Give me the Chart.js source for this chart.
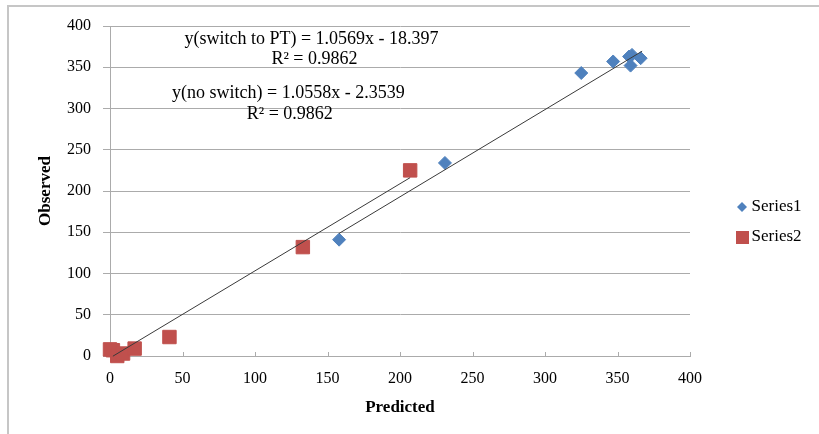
<!DOCTYPE html>
<html><head><meta charset="utf-8">
<script src="https://cdn.jsdelivr.net/npm/chart.js@4.4.1/dist/chart.umd.min.js"></script>
<style>
html,body{margin:0;padding:0;background:#fff;overflow:hidden;}
#wrap{position:relative;width:819px;height:434px;overflow:hidden;}
#frame{position:absolute;left:7px;top:5px;width:900px;height:600px;border-left:2px solid #c6c6c6;border-top:2px solid #c6c6c6;}
canvas{position:absolute;left:0;top:0;}
</style></head><body>
<div id="wrap"><div id="frame"></div><canvas id="c" width="819" height="434"></canvas></div>
<script>
// ---- data ----
const seriesNames = ['Series1', 'Series2'];
const series1X = [158, 231, 325, 347, 358, 360, 359, 366];
const series1Y = [141, 234, 343, 357, 363, 365, 352, 361];
const series2X = [0, 2, 5, 9, 17, 41, 133, 207];
const series2Y = [8, 7, 0, 3, 9, 23, 132, 225];
const trendSlopes = [1.0569, 1.0558];
const trendIntercepts = [-18.397, -2.3539];
const trendRangesX = [[158, 367], [2, 207]];
const equationLines = [
  ['y(switch to PT) = 1.0569x - 18.397', 'R\u00B2 = 0.9862'],
  ['y(no switch) = 1.0558x - 2.3539', 'R\u00B2 = 0.9862']
];
const axisMin = 0, axisMax = 400, axisStep = 50;
const xTitle = 'Predicted', yTitle = 'Observed';

// ---- styles / layout ----
const BLUE = '#4F81BD', RED = '#C0504D', GRID = '#ababab', TREND = '#3a3a3a';
const FONT = "'Liberation Serif', 'Times New Roman', serif";
// annotation anchor points in data units [x, y] for each line of each equation block
const equationAnchors = [[[139, 384], [141, 360]], [[123, 318.5], [124, 293]]];

function pts(xs, ys) { return xs.map((x, i) => ({x: x, y: ys[i]})); }
function trendPts(k) {
  return trendRangesX[k].map(x => ({x: x, y: trendSlopes[k] * x + trendIntercepts[k]}));
}
function marker(shape, size, color) {
  const c = document.createElement('canvas');
  c.width = size; c.height = size;
  const g = c.getContext('2d');
  g.fillStyle = color;
  if (shape === 'diamond') {
    g.beginPath(); g.moveTo(size / 2, 0); g.lineTo(size, size / 2); g.lineTo(size / 2, size); g.lineTo(0, size / 2); g.closePath(); g.fill();
  } else { g.fillRect(0, 0, size, size); }
  return c;
}
const legendMarkers = [marker('diamond', 10, BLUE), marker('square', 13, RED)];

const layoutPlugin = {
  id: 'layoutPlugin',
  beforeLayout(chart) {
    const lg = chart.legend;
    if (lg && !lg._patched) {
      const f = lg.fit;
      lg.fit = function () { f.call(this); this.width = 129; };
      lg._patched = true;
    }
  },
  afterLayout(chart) {
    const lg = chart.legend;
    if (lg) { const w = lg.width; lg.left = 728; lg.right = 728 + w; }
  },
  beforeDatasetsDraw(chart) {
    const xs = chart.scales.x, ctx = chart.ctx, b = chart.chartArea.bottom;
    ctx.save(); ctx.strokeStyle = GRID; ctx.lineWidth = 1;
    xs.ticks.forEach(t => {
      const px = Math.round(xs.getPixelForValue(t.value)) + 0.5;
      ctx.beginPath(); ctx.moveTo(px, b); ctx.lineTo(px, b - 4); ctx.stroke();
    });
    ctx.restore();
  },
  afterDatasetsDraw(chart) {
    const xs = chart.scales.x, ys = chart.scales.y, ctx = chart.ctx;
    ctx.save();
    ctx.fillStyle = '#000'; ctx.font = '18px ' + FONT;
    ctx.textAlign = 'center'; ctx.textBaseline = 'middle';
    equationLines.forEach((lines, k) => {
      lines.forEach((txt, j) => {
        const a = equationAnchors[k][j];
        ctx.fillText(txt, xs.getPixelForValue(a[0]), ys.getPixelForValue(a[1]));
      });
    });
    ctx.restore();
  }
};

new Chart(document.getElementById('c'), {
  type: 'scatter',
  data: {
    datasets: [
      {label: seriesNames[0], data: pts(series1X, series1Y), pointStyle: 'rectRot', pointRadius: 6.5, pointHoverRadius: 6.5,
        backgroundColor: BLUE, borderColor: BLUE, borderWidth: 1, order: 1, clip: false},
      {label: seriesNames[1], data: pts(series2X, series2Y), pointStyle: 'rect', pointRadius: 9.5, pointHoverRadius: 9.5,
        backgroundColor: RED, borderColor: RED, borderWidth: 1, order: 1, clip: false},
      {label: 'trend1', type: 'line', data: trendPts(0), borderColor: TREND, borderWidth: 1, pointRadius: 0, fill: false, showLine: true, order: 0, clip: false},
      {label: 'trend2', type: 'line', data: trendPts(1), borderColor: TREND, borderWidth: 1, pointRadius: 0, fill: false, showLine: true, order: 0, clip: false}
    ]
  },
  options: {
    responsive: false, animation: false, devicePixelRatio: 1,
    events: [],
    layout: {padding: {left: 0, top: 26, right: 0, bottom: 16}},
    plugins: {
      tooltip: {enabled: false},
      legend: {
        position: 'right',
        labels: {
          usePointStyle: true, boxWidth: 2, padding: 13, color: '#000',
          font: {family: FONT, size: 17},
          generateLabels(chart) {
            const items = Chart.defaults.plugins.legend.labels.generateLabels(chart);
            return items.filter(i => i.datasetIndex < 2).map(i => Object.assign({}, i, {pointStyle: legendMarkers[i.datasetIndex], rotation: 0}));
          }
        }
      }
    },
    scales: {
      x: {
        type: 'linear', min: axisMin, max: axisMax,
        ticks: {stepSize: axisStep, color: '#000', font: {family: FONT, size: 16}, padding: 13, maxRotation: 0},
        grid: {display: false, drawTicks: false},
        border: {display: true, color: GRID, width: 1},
        title: {display: true, text: xTitle, color: '#000', font: {family: FONT, size: 17, weight: 'bold'}, padding: {top: 3, bottom: 0}},
        afterFit(s) { s.height = 62; }
      },
      y: {
        type: 'linear', min: axisMin, max: axisMax,
        ticks: {stepSize: axisStep, color: '#000', font: {family: FONT, size: 16}, padding: 12},
        grid: {color: GRID, lineWidth: 1, tickLength: 7, drawTicks: true},
        border: {display: true, color: GRID, width: 1},
        title: {display: true, text: yTitle, color: '#000', font: {family: FONT, size: 17, weight: 'bold'}, padding: {top: 35, bottom: 0}},
        afterFit(s) { s.width = 110; }
      }
    }
  },
  plugins: [layoutPlugin]
});
</script>
</body></html>
